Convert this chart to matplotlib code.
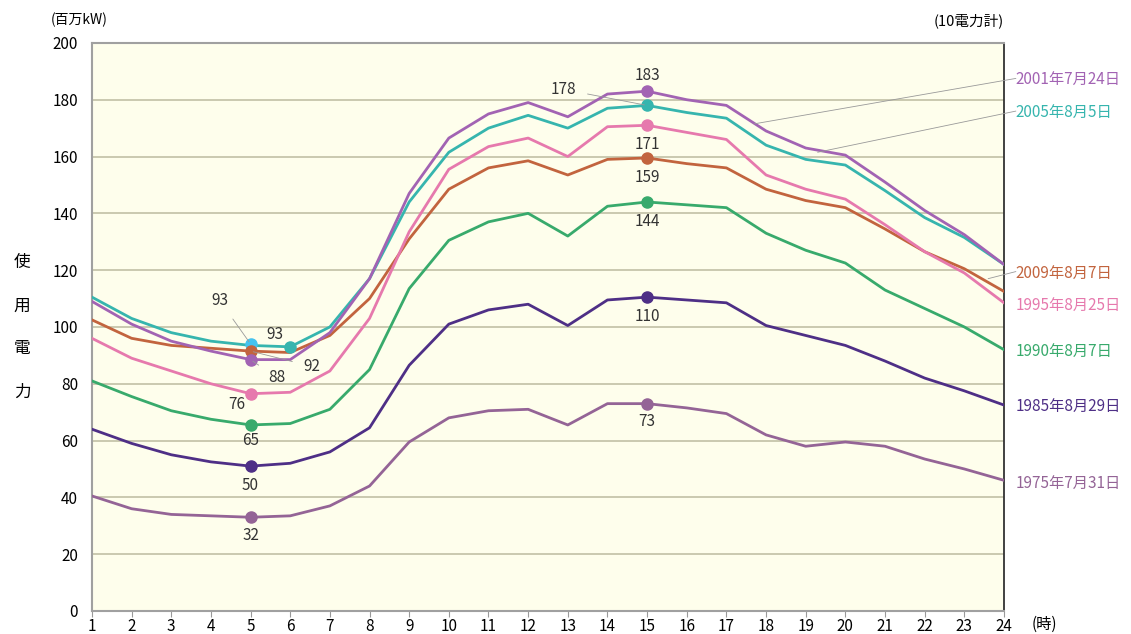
import matplotlib
matplotlib.use('Agg')
import matplotlib.pyplot as plt

plt.rcParams['font.family'] = ['Liberation Sans Narrow', 'Noto Sans CJK JP', 'DejaVu Sans']

hours = list(range(1, 25))

# 百万kW
s2001 = [109, 101, 95, 91.5, 88.5, 88.5, 98, 117, 147, 166.5, 175, 179, 174, 182, 183,
         180, 178, 169, 163, 160.5, 151, 141, 132.5, 122]
s2005 = [110.5, 103, 98, 95, 93.5, 93, 100, 117, 144, 161.5, 170, 174.5, 170, 177, 178,
         175.5, 173.5, 164, 159, 157, 148, 138.5, 131.5, 122]
s1995 = [96, 89, 84.5, 80, 76.5, 77, 84.5, 103, 133.5, 155.5, 163.5, 166.5, 160, 170.5, 171,
         168.5, 166, 153.5, 148.5, 145, 136, 126.5, 119, 108.5]
s2009 = [102.5, 96, 93.5, 92.5, 91.5, 91, 97, 110, 131, 148.5, 156, 158.5, 153.5, 159, 159.5,
         157.5, 156, 148.5, 144.5, 142, 134.5, 126.5, 120.5, 112.5]
s1990 = [81, 75.5, 70.5, 67.5, 65.5, 66, 71, 85, 113.5, 130.5, 137, 140, 132, 142.5, 144,
         143, 142, 133, 127, 122.5, 113, 106.5, 100, 92]
s1985 = [64, 59, 55, 52.5, 51, 52, 56, 64.5, 86.5, 101, 106, 108, 100.5, 109.5, 110.5,
         109.5, 108.5, 100.5, 97, 93.5, 88, 82, 77.5, 72.5]
s1975 = [40.5, 36, 34, 33.5, 33, 33.5, 37, 44, 59.5, 68, 70.5, 71, 65.5, 73, 73,
         71.5, 69.5, 62, 58, 59.5, 58, 53.5, 50, 46]

series = [
    ('1975年7月31日', s1975, '#946496'),
    ('1985年8月29日', s1985, '#4e2f86'),
    ('1990年8月7日', s1990, '#38aa6c'),
    ('2009年8月7日', s2009, '#c2643e'),
    ('1995年8月25日', s1995, '#e679ad'),
    ('2005年8月5日', s2005, '#36b5ae'),
    ('2001年7月24日', s2001, '#a263b3'),
]

# marked points: (hour, value, label, color)
marks = [
    (15, 183, '183', '#a263b3'), (15, 178, '178', '#36b5ae'), (15, 171, '171', '#e679ad'),
    (15, 159.5, '159', '#c2643e'), (15, 144, '144', '#38aa6c'), (15, 110.5, '110', '#4e2f86'),
    (15, 73, '73', '#946496'),
    (5, 94, '93', '#45c3ef'), (6, 93, '93', '#36b5ae'), (5, 91.5, '92', '#c2643e'),
    (5, 88.5, '88', '#a263b3'), (5, 76.5, '76', '#e679ad'), (5, 65.5, '65', '#38aa6c'),
    (5, 51, '50', '#4e2f86'), (5, 33, '32', '#946496'),
]
# label offsets in points (dx, dy) and whether a leader line is drawn
offsets = [(0, 11, False), (-60, 11.5, True), (0, -14, False), (0, -14, False), (0, -14, False),
           (0, -14, False), (0, -13, False),
           (-22, 31, True), (-11, 9, False), (44, -11, True), (19, -13, True),
           (-10, -8, False), (0, -11, False), (0, -14, False), (0, -13, False)]

# right side date labels: (text, y in data units, color, leader target (x, y) or None)
right_labels = [
    ('2001年7月24日', 187, '#a263b3', (17.7, 171.5)),
    ('2005年8月5日', 175.5, '#36b5ae', (19.3, 161.5)),
    ('2009年8月7日', 119, '#c2643e', (23.6, 117)),
    ('1995年8月25日', 107.5, '#e679ad', None),
    ('1990年8月7日', 91.5, '#38aa6c', None),
    ('1985年8月29日', 72, '#4e2f86', None),
    ('1975年7月31日', 45, '#946496', None),
]

fig = plt.figure(figsize=(11.31, 6.34), dpi=100)
ax = fig.add_axes([0.0813, 0.0363, 0.8064, 0.896])
ax.set_facecolor('#fefeec')

for name, vals, color in series:
    ax.plot(hours, vals, color=color, linewidth=2.0, zorder=3, solid_joinstyle='round')

for (h, v, txt, color), (dx, dy, lead) in zip(marks, offsets):
    ax.plot(h, v, 'o', color=color, markersize=8, zorder=4)
    if lead:
        ax.annotate(txt, (h, v), xytext=(dx, dy), textcoords='offset points',
                    ha='center', va='center', fontsize=11, color='#333333',
                    arrowprops=dict(arrowstyle='-', color='#999999', lw=0.6,
                                    shrinkA=6, shrinkB=2), zorder=5)
    else:
        ax.annotate(txt, (h, v), xytext=(dx, dy), textcoords='offset points',
                    ha='center', va='center', fontsize=11, color='#333333', zorder=5)

for txt, y, color, target in right_labels:
    ax.text(24.3, y, txt, color=color, fontsize=11, va='center', ha='left',
            transform=ax.transData, clip_on=False)
    if target:
        ax.annotate('', xy=target, xytext=(24.3, y + 0.5),
                    arrowprops=dict(arrowstyle='-', color='#999999', lw=0.6,
                                    shrinkA=0, shrinkB=0), annotation_clip=False)

ax.set_xlim(1, 24)
ax.set_ylim(0, 200)
ax.set_xticks(hours)
ax.set_yticks(range(0, 201, 20))
ax.grid(axis='y', color='#c6c5ab', linewidth=1.3, zorder=1)
ax.tick_params(axis='y', length=0, labelsize=11, pad=10)
ax.tick_params(axis='x', length=4, color='#999999', labelsize=11, pad=1)
for side in ['left', 'top', 'bottom']:
    ax.spines[side].set_color('#a0a0a0')
    ax.spines[side].set_linewidth(1.5)
ax.spines['right'].set_color('#333333')
ax.spines['right'].set_linewidth(1.3)

fig.text(0.045, 0.968, '(百万kW)', fontsize=10, va='center', ha='left')
fig.text(0.888, 0.968, '(10電力計)', fontsize=10.5, va='center', ha='right')
fig.text(0.912, 0.016, '(時)', fontsize=11, va='center', ha='left')
for i, ch in enumerate('使用電力'):
    fig.text(0.0195, 1 - (263 + i * 43) / 634, ch, fontsize=12, va='center', ha='center')

fig.savefig('out.png', dpi=100)
